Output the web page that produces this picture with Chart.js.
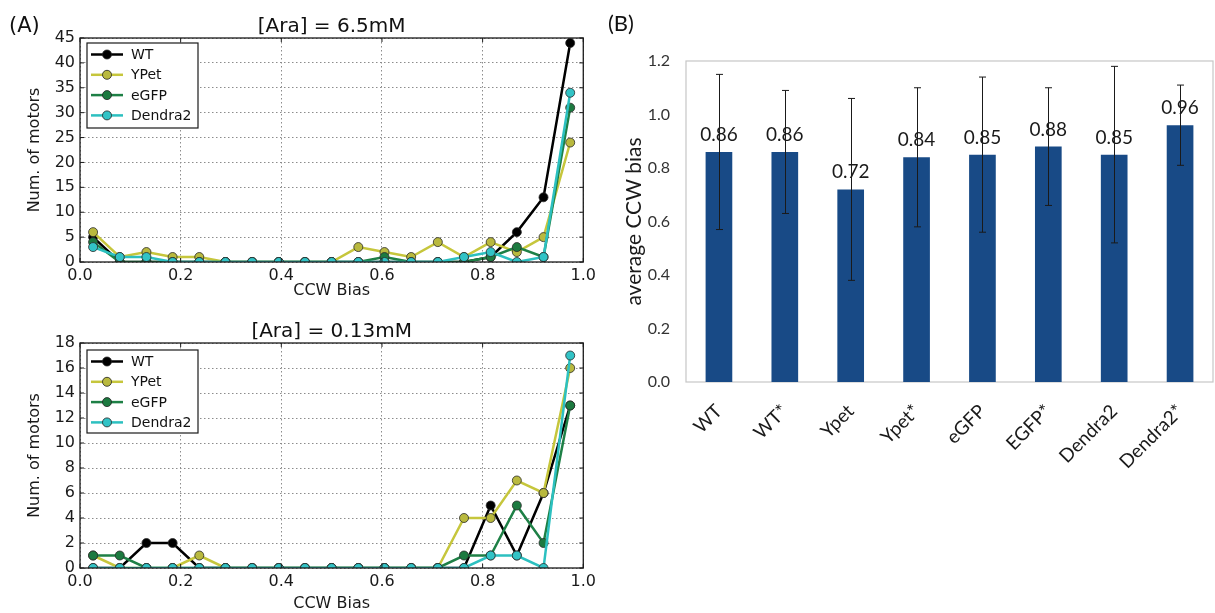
<!DOCTYPE html>
<html><head><meta charset="utf-8">
<script src="https://cdn.jsdelivr.net/npm/chart.js@4.4.1/dist/chart.umd.min.js"></script>
<style>
html,body{margin:0;padding:0;background:#fff;width:1215px;height:613px;overflow:hidden;}
.c{position:absolute;}
</style></head><body>
<div class="c" style="left:0;top:0;width:600px;height:300px"><canvas id="c1"></canvas></div>
<div class="c" style="left:0;top:300px;width:600px;height:313px"><canvas id="c2"></canvas></div>
<div class="c" style="left:600px;top:0;width:615px;height:613px"><canvas id="c3"></canvas></div>
<script>
// ---------- data ----------
const binCenters = [0.026,0.079,0.132,0.184,0.237,0.289,0.342,0.395,0.447,0.500,0.553,0.605,0.658,0.711,0.763,0.816,0.868,0.921,0.974];
const seriesNames = ['WT','YPet','eGFP','Dendra2'];
// [Ara] = 6.5mM
const wtHigh     = [5,0,0,0,0,0,0,0,0,0,0,0,0,0,0,1,6,13,44];
const ypetHigh   = [6,1,2,1,1,0,0,0,0,0,3,2,1,4,1,4,2,5,24];
const egfpHigh   = [4,0,0,0,0,0,0,0,0,0,0,1,0,0,0,1,3,1,31];
const dendraHigh = [3,1,1,0,0,0,0,0,0,0,0,0,0,0,1,2,0,1,34];
// [Ara] = 0.13mM
const wtLow     = [0,0,2,2,0,0,0,0,0,0,0,0,0,0,0,5,1,6,13];
const ypetLow   = [1,0,0,0,1,0,0,0,0,0,0,0,0,0,4,4,7,6,16];
const egfpLow   = [1,1,0,0,0,0,0,0,0,0,0,0,0,0,1,1,5,2,13];
const dendraLow = [0,0,0,0,0,0,0,0,0,0,0,0,0,0,0,1,1,0,17];
// (B) average CCW bias
const barLabels = ['WT','WT*','Ypet','Ypet*','eGFP','EGFP*','Dendra2','Dendra2*'];
const barMeans  = [0.86,0.86,0.72,0.84,0.85,0.88,0.85,0.96];
const barErrors = [0.29,0.23,0.34,0.26,0.29,0.22,0.33,0.15];

// ---------- styles ----------
const lineColors   = ['#000000','#c6c63c','#1e8046','#2cc0c0'];
const markerColors = ['#000000','#b9b93e','#1c7a40','#32c3c6'];
const DV = "'DejaVu Sans'";

// ---------- plugins ----------
const frameTicks = {
  id:'frameTicks',
  afterDatasetsDraw(chart){
    const {ctx, chartArea:a, scales:{x,y}} = chart;
    ctx.save();
    ctx.strokeStyle='#1a1a1a'; ctx.lineWidth=1.3;
    ctx.strokeRect(a.left, a.top, a.right-a.left, a.bottom-a.top);
    ctx.lineWidth=1; ctx.beginPath();
    x.ticks.forEach(t=>{const p=x.getPixelForValue(t.value);
      ctx.moveTo(p,a.bottom); ctx.lineTo(p,a.bottom-4); ctx.moveTo(p,a.top); ctx.lineTo(p,a.top+4);});
    y.ticks.forEach(t=>{const p=y.getPixelForValue(t.value);
      ctx.moveTo(a.left,p); ctx.lineTo(a.left+4,p); ctx.moveTo(a.right,p); ctx.lineTo(a.right-4,p);});
    ctx.stroke(); ctx.restore();
  }
};
const insideLegend = {
  id:'insideLegend',
  afterDraw(chart, args, o){
    const {ctx, chartArea:a} = chart;
    const bx=a.left+o.dx, by=a.top+o.dy;
    ctx.save();
    ctx.fillStyle='#fff'; ctx.fillRect(bx,by,o.w,o.h);
    ctx.strokeStyle='#1a1a1a'; ctx.lineWidth=1.2; ctx.strokeRect(bx,by,o.w,o.h);
    chart.data.datasets.forEach((ds,i)=>{
      const ry=by+o.first+i*o.gap;
      ctx.strokeStyle=ds.borderColor; ctx.lineWidth=ds.borderWidth;
      ctx.beginPath(); ctx.moveTo(bx+4,ry); ctx.lineTo(bx+36,ry); ctx.stroke();
      ctx.beginPath(); ctx.arc(bx+20,ry,4.5,0,Math.PI*2);
      ctx.fillStyle=ds.pointBackgroundColor; ctx.fill();
      ctx.lineWidth=0.8; ctx.strokeStyle='#222'; ctx.stroke();
      ctx.fillStyle='#111'; ctx.font="14px "+DV; ctx.textAlign='left'; ctx.textBaseline='middle';
      ctx.fillText(ds.label,bx+44,ry+1);
    });
    ctx.restore();
  }
};
const topTitle = {
  id:'topTitle',
  afterDraw(chart, args, o){
    const {ctx, chartArea:a} = chart;
    ctx.save();
    ctx.fillStyle='#111'; ctx.font=o.font; ctx.textAlign='center'; ctx.textBaseline='alphabetic';
    ctx.fillText(o.text,(a.left+a.right)/2,a.top-o.gap);
    ctx.restore();
  }
};
const panelLabel = {
  id:'panelLabel',
  afterDraw(chart, args, o){
    if(!o.text) return;
    const ctx=chart.ctx; ctx.save();
    ctx.fillStyle='#111'; ctx.font=o.font; ctx.textAlign='left'; ctx.textBaseline='alphabetic';
    ctx.fillText(o.text,o.x,o.y); ctx.restore();
  }
};

function lineChart(id, vals, yMax, yStep, title, padTop, xH, legendDy, legendH, label){
  return new Chart(document.getElementById(id), {
    type:'line',
    data:{datasets: seriesNames.map((n,i)=>({
      label:n,
      data: binCenters.map((x,k)=>({x:x, y:vals[i][k]})),
      borderColor:lineColors[i], backgroundColor:markerColors[i],
      pointBackgroundColor:markerColors[i], pointBorderColor:'#2a2a2a',
      pointBorderWidth:0.8, pointRadius:4.5, borderWidth:2.5, tension:0,
      order:4-i, clip:0
    }))},
    options:{
      animation:false, responsive:true, maintainAspectRatio:false,
      layout:{padding:{top:padTop,right:16,left:0,bottom:0}},
      plugins:{
        legend:{display:false}, tooltip:{enabled:false},
        insideLegend:{dx:7,dy:legendDy,w:111,h:legendH,first:11.5,gap:20.3},
        topTitle:{text:title,font:"20px "+DV,gap:6},
        panelLabel:label
      },
      scales:{
        x:{type:'linear',min:0,max:1,
          ticks:{stepSize:0.2,callback:v=>v.toFixed(1),font:{family:'DejaVu Sans',size:16},color:'#1a1a1a',padding:4,maxRotation:0,autoSkip:false},
          grid:{color:'#8c8c8c',lineWidth:1,drawTicks:false},
          border:{display:false,dash:[1.5,2.5]},
          title:{display:true,text:'CCW Bias',font:{family:'DejaVu Sans',size:16},color:'#1a1a1a',padding:{top:0,bottom:0}},
          afterFit:s=>{s.height=xH;}
        },
        y:{min:0,max:yMax,
          ticks:{stepSize:yStep,font:{family:'DejaVu Sans',size:16},color:'#1a1a1a',padding:5,autoSkip:false},
          grid:{color:'#8c8c8c',lineWidth:1,drawTicks:false},
          border:{display:false,dash:[1.5,2.5]},
          title:{display:true,text:'Num. of motors',font:{family:'DejaVu Sans',size:16},color:'#1a1a1a',padding:{top:25,bottom:0}},
          afterFit:s=>{s.width=80;}
        }
      }
    },
    plugins:[frameTicks,insideLegend,topTitle,panelLabel]
  });
}

lineChart('c1',[wtHigh,ypetHigh,egfpHigh,dendraHigh],45,5,'[Ara] = 6.5mM',38,38,5,85,
  {text:'(A)',x:9,y:32,font:"21px "+DV});
lineChart('c2',[wtLow,ypetLow,egfpLow,dendraLow],18,2,'[Ara] = 0.13mM',43,45,7,83,{text:''});

// ---------- bar chart (B) ----------
const barExtras = {
  id:'barExtras',
  beforeDatasetsDraw(chart){
    const {ctx, chartArea:a} = chart;
    ctx.save(); ctx.strokeStyle='#c6c6c6'; ctx.lineWidth=1.2;
    ctx.strokeRect(a.left,a.top,a.right-a.left,a.bottom-a.top); ctx.restore();
  },
  afterDatasetsDraw(chart){
    const {ctx, scales:{y}} = chart;
    const meta = chart.getDatasetMeta(0);
    ctx.save();
    ctx.font="19px Lato"; ctx.fillStyle='#1a1a1a'; ctx.textAlign='center'; ctx.textBaseline='alphabetic';
    meta.data.forEach((b,i)=>ctx.fillText(barMeans[i].toFixed(2), b.x, b.y-11));
    ctx.strokeStyle='#1a1a1a'; ctx.lineWidth=1;
    meta.data.forEach((b,i)=>{
      const yt=y.getPixelForValue(barMeans[i]+barErrors[i]);
      const yb=y.getPixelForValue(barMeans[i]-barErrors[i]);
      const cx=Math.round(b.x)+0.5;
      ctx.beginPath();
      ctx.moveTo(cx,yt); ctx.lineTo(cx,yb);
      ctx.moveTo(cx-3.5,yt); ctx.lineTo(cx+3.5,yt);
      ctx.moveTo(cx-3.5,yb); ctx.lineTo(cx+3.5,yb);
      ctx.stroke();
    });
    ctx.restore();
  }
};
new Chart(document.getElementById('c3'), {
  type:'bar',
  data:{labels:barLabels, datasets:[{data:barMeans, backgroundColor:'#184a86', barPercentage:0.405, categoryPercentage:1}]},
  options:{
    animation:false, responsive:true, maintainAspectRatio:false,
    layout:{padding:{top:61,right:2,left:0,bottom:0}},
    plugins:{legend:{display:false}, tooltip:{enabled:false},
      panelLabel:{text:'(B)',x:8,y:31,font:"22px Lato"}},
    scales:{
      x:{grid:{display:false,drawTicks:false}, border:{display:false},
        ticks:{minRotation:45,maxRotation:45,font:{family:'Lato',size:19},color:'#1a1a1a',padding:18,autoSkip:false},
        afterFit:s=>{s.height=231;}},
      y:{min:0,max:1.2,
        ticks:{stepSize:0.2,callback:v=>v.toFixed(1),font:{family:'Lato',size:16},color:'#333',padding:16,autoSkip:false},
        grid:{display:false,drawTicks:false}, border:{display:false},
        title:{display:true,text:'average CCW bias',font:{family:'Lato',size:21},color:'#1a1a1a',padding:{top:22,bottom:0}},
        afterFit:s=>{s.width=86;}}
    }
  },
  plugins:[barExtras,panelLabel]
});
</script>
</body></html>
